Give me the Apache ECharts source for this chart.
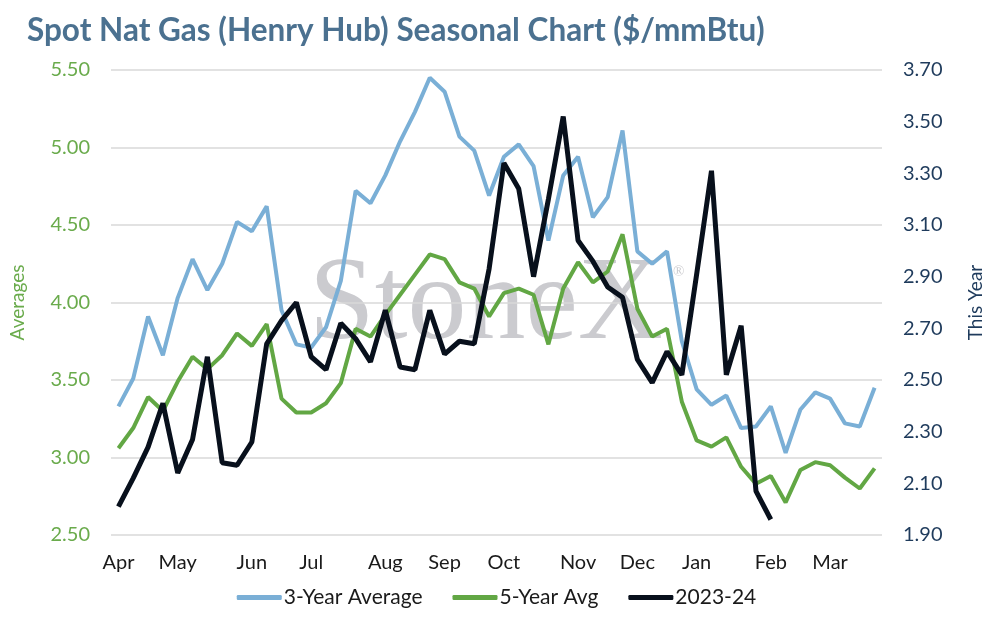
<!DOCTYPE html>
<html>
<head>
<meta charset="utf-8">
<script src="https://cdn.jsdelivr.net/npm/echarts@6/dist/echarts.min.js"></script>
<style>
  html, body { margin: 0; padding: 0; background: #fff; }
  #chart { width: 993px; height: 617px; }
</style>
</head>
<body>
<div id="chart"></div>
<script>
// Semanas de abril a marzo (etiqueta solo en la primera semana de cada mes)
const weeks = [
  'Apr', '', '', '', 'May', '', '', '', '', 'Jun', '', '', '', 'Jul', '', '', '', '',
  'Aug', '', '', '', 'Sep', '', '', '', 'Oct', '', '', '', '', 'Nov', '', '', '',
  'Dec', '', '', '', 'Jan', '', '', '', '', 'Feb', '', '', '', 'Mar', '', '', ''
];

// Promedio 3 años (eje izquierdo)
const avg3y = [
  3.33, 3.51, 3.91, 3.66, 4.03, 4.28, 4.08, 4.25, 4.52, 4.46, 4.62, 3.95, 3.73,
  3.71, 3.84, 4.14, 4.72, 4.64, 4.82, 5.04, 5.23, 5.45, 5.36, 5.07, 4.98, 4.69,
  4.94, 5.02, 4.88, 4.40, 4.82, 4.94, 4.55, 4.68, 5.11, 4.33, 4.25, 4.33, 3.75,
  3.44, 3.34, 3.40, 3.19, 3.20, 3.33, 3.03, 3.31, 3.42, 3.38, 3.22, 3.20, 3.45
];

// Promedio 5 años (eje izquierdo)
const avg5y = [
  3.06, 3.19, 3.39, 3.30, 3.49, 3.65, 3.57, 3.66, 3.80, 3.72, 3.86, 3.38, 3.29,
  3.29, 3.35, 3.48, 3.83, 3.78, 3.92, 4.05, 4.18, 4.31, 4.28, 4.13, 4.09, 3.91,
  4.06, 4.09, 4.05, 3.73, 4.09, 4.26, 4.13, 4.20, 4.44, 3.96, 3.78, 3.83, 3.36,
  3.11, 3.07, 3.13, 2.94, 2.83, 2.88, 2.71, 2.92, 2.97, 2.95, 2.87, 2.80, 2.93
];

// Este año 2023-24 (eje derecho), termina en febrero
const thisYear = [
  2.01, 2.12, 2.24, 2.41, 2.14, 2.27, 2.59, 2.18, 2.17, 2.26, 2.64, 2.73, 2.80,
  2.59, 2.54, 2.72, 2.66, 2.57, 2.77, 2.55, 2.54, 2.77, 2.60, 2.65, 2.64, 2.93,
  3.34, 3.24, 2.90, 3.20, 3.52, 3.04, 2.96, 2.86, 2.82, 2.58, 2.49, 2.61, 2.52,
  2.91, 3.31, 2.52, 2.71, 2.07, 1.96
];

const chart = echarts.init(document.getElementById('chart'));
const baseFont = 'Lato, "Noto Sans", sans-serif';

const option = {
  backgroundColor: '#ffffff',
  animation: false,
  title: {
    text: 'Spot Nat Gas (Henry Hub) Seasonal Chart ($/mmBtu)',
    left: 22,
    top: 10,
    textStyle: { color: '#4b7190', fontSize: 31.5, fontWeight: 'bold', fontFamily: baseFont }
  },
  grid: { left: 108, right: 108, top: 70, bottom: 82 },
  graphic: [
    {
      type: 'text',
      left: 309,
      top: 248,
      z: 0,
      silent: true,
      style: {
        text: 'StoneX',
        font: '118px "Liberation Serif", "DejaVu Serif", serif',
        fill: '#cbcbcf'
      }
    },
    {
      type: 'text',
      left: 673,
      top: 265,
      z: 0,
      silent: true,
      style: { text: '®', font: '15px "Liberation Serif", serif', fill: '#cbcbcf' }
    }
  ],
  legend: {
    bottom: 4,
    left: 'center',
    itemWidth: 45,
    itemHeight: 5,
    itemGap: 30,
    icon: 'roundRect',
    textStyle: { color: '#1a1a1a', fontSize: 21, fontFamily: baseFont, padding: [0, 0, 0, -3] },
    data: ['3-Year Average', '5-Year Avg', '2023-24']
  },
  xAxis: {
    type: 'category',
    data: weeks,
    boundaryGap: true,
    axisLine: { show: false },
    axisTick: { show: false },
    axisLabel: {
      interval: 0,
      color: '#1a1a1a',
      fontSize: 20,
      fontFamily: baseFont,
      margin: 18
    }
  },
  yAxis: [
    {
      type: 'value',
      name: 'Averages',
      nameLocation: 'middle',
      nameGap: 84,
      nameTextStyle: { color: '#6aab4c', fontSize: 19, fontFamily: baseFont },
      min: 2.5,
      max: 5.5,
      interval: 0.5,
      axisLine: { show: false },
      axisTick: { show: false },
      splitLine: { lineStyle: { color: '#d9d9d9', width: 1.5 } },
      axisLabel: {
        color: '#6aab4c',
        fontSize: 20,
        fontFamily: baseFont,
        margin: 21,
        formatter: v => v.toFixed(2)
      }
    },
    {
      type: 'value',
      name: 'This Year',
      nameLocation: 'middle',
      nameGap: 84,
      nameRotate: 90,
      nameTextStyle: { color: '#1f3b5c', fontSize: 19, fontFamily: baseFont },
      min: 1.9,
      max: 3.7,
      interval: 0.2,
      axisLine: { show: false },
      axisTick: { show: false },
      splitLine: { show: false },
      axisLabel: {
        color: '#1f3b5c',
        fontSize: 20,
        fontFamily: baseFont,
        margin: 21,
        formatter: v => v.toFixed(2)
      }
    }
  ],
  series: [
    {
      name: '3-Year Average',
      type: 'line',
      data: avg3y,
      yAxisIndex: 0,
      symbol: 'none',
      z: 3,
      color: '#7aafd6',
      lineStyle: { width: 4, color: '#7aafd6' }
    },
    {
      name: '5-Year Avg',
      type: 'line',
      data: avg5y,
      yAxisIndex: 0,
      symbol: 'none',
      z: 4,
      color: '#62a744',
      lineStyle: { width: 4, color: '#62a744' }
    },
    {
      name: '2023-24',
      type: 'line',
      data: thisYear,
      yAxisIndex: 1,
      symbol: 'none',
      z: 5,
      color: '#08101c',
      lineStyle: { width: 5, color: '#08101c' }
    }
  ]
};

chart.setOption(option);
</script>
</body>
</html>
